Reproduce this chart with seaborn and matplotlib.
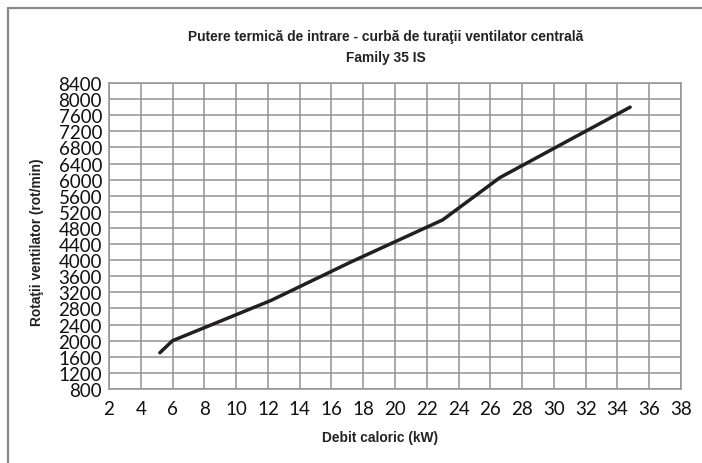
import matplotlib
matplotlib.use("Agg")
import matplotlib.pyplot as plt
from matplotlib.lines import Line2D
import seaborn as sns
import pandas as pd

# Heat input (kW) vs. fan speed (rpm)
debit_kw = [5.2, 6.0, 12.2, 17.2, 23.0, 26.6, 34.8]
rotatii_rpm = [1700, 2000, 3000, 3950, 5000, 6050, 7800]

x_ticks = list(range(2, 39, 2))
y_ticks = list(range(800, 8401, 400))

title_line1 = "Putere termică de intrare - curbă de turaţii ventilator centrală"
title_line2 = "Family 35 IS"
x_label = "Debit caloric (kW)"
y_label = "Rotaţii ventilator (rot/min)"

sns.set_style("white")
plt.rcParams["font.family"] = ["Lato", "DejaVu Sans"]

W, H = 702, 464
fig = plt.figure(figsize=(W / 100, H / 100), dpi=100)
ax = fig.add_axes([109 / W, (H - 390) / H, 572 / W, 306 / H])

df = pd.DataFrame({"debit": debit_kw, "rot": rotatii_rpm})
sns.lineplot(data=df, x="debit", y="rot", ax=ax, color="#231f20",
             linewidth=2.5, sort=False, zorder=3)

ax.set_xlim(2, 38)
ax.set_ylim(800, 8400)
ax.set_xticks(x_ticks)
ax.set_yticks(y_ticks)
ax.set_xticklabels([str(v) for v in x_ticks], fontsize=13.5, color="#111111")
ax.set_yticklabels([str(v) for v in y_ticks], fontsize=13.5, color="#111111")
ax.tick_params(axis="both", which="major", length=4, width=1.0,
               color="#888888", direction="out")
ax.tick_params(axis="y", pad=1)
ax.tick_params(axis="x", pad=4)

ax.grid(True, color="#929292", linewidth=1.1)
ax.set_axisbelow(True)
for s in ax.spines.values():
    s.set_color("#929292")
    s.set_linewidth(1.1)

ax.set_xlabel("")
ax.set_ylabel("")

bold_narrow = ["Liberation Sans Narrow", "Liberation Sans", "DejaVu Sans"]
text_kw = dict(fontsize=9.9, fontweight="bold", family=bold_narrow, color="#222222")
fig.text(386 / W, 1 - 37 / H, title_line1, ha="center", va="center", **text_kw)
fig.text(386 / W, 1 - 58 / H, title_line2, ha="center", va="center", **text_kw)
fig.text(380 / W, 1 - 438 / H, x_label, ha="center", va="center", **text_kw)
fig.text(37 / W, 1 - 242 / H, y_label, ha="center", va="center", rotation=90,
         **text_kw)

# frame around the chart (top and left edges)
fig.add_artist(Line2D([7.5 / W, 1], [1 - 8.5 / H, 1 - 8.5 / H],
                      transform=fig.transFigure, color="#888888", linewidth=1.6))
fig.add_artist(Line2D([7.5 / W, 7.5 / W], [0, 1 - 8.5 / H],
                      transform=fig.transFigure, color="#888888", linewidth=1.6))

fig.savefig("out.png", dpi=100, facecolor="white")
